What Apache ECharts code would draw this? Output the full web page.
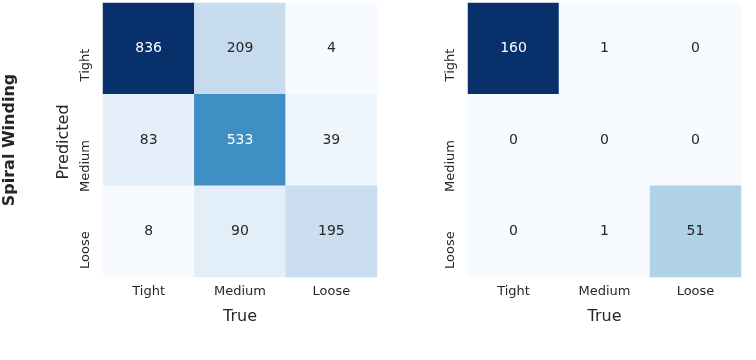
<!DOCTYPE html>
<html>
<head>
<meta charset="utf-8">
<script src="https://cdn.jsdelivr.net/npm/echarts@6/dist/echarts.min.js"></script>
<style>html,body{margin:0;padding:0;background:#fff}#c{width:756px;height:360px}</style>
</head>
<body>
<div id="c"></div>
<script>
const trueLabels = ['Tight', 'Medium', 'Loose'];
const predLabels = ['Tight', 'Medium', 'Loose'];
// rows = predicted, cols = true
const leftMatrix = [
  [836, 209, 4],
  [83, 533, 39],
  [8, 90, 195]
];
const rightMatrix = [
  [160, 1, 0],
  [0, 0, 0],
  [0, 1, 51]
];
const blues = ['#f7fbff','#deebf7','#c6dbef','#9ecae1','#6baed6','#4292c6','#2171b5','#08519c','#08306b'];
const txt = '#262626';
const FONT = 'DejaVu Sans';

function toData(m) {
  const out = [];
  m.forEach((row, r) => row.forEach((v, c) => out.push([c, r, v])));
  return out;
}
function flat(m) { return m.reduce((a, r) => a.concat(r), []); }
function hexToRgb(h){return [parseInt(h.slice(1,3),16),parseInt(h.slice(3,5),16),parseInt(h.slice(5,7),16)];}
function colorAt(t){
  t=Math.max(0,Math.min(1,t));
  const p=t*(blues.length-1), i=Math.min(Math.floor(p),blues.length-2), f=p-i;
  const a=hexToRgb(blues[i]), b=hexToRgb(blues[i+1]);
  return a.map((x,k)=>x+(b[k]-x)*f);
}
function lum(rgb){
  const c=rgb.map(v=>{v/=255;return v<=0.03928?v/12.92:Math.pow((v+0.055)/1.055,2.4);});
  return 0.2126*c[0]+0.7152*c[1]+0.0722*c[2];
}
function makeSeries(m, xi, yi) {
  const vals = flat(m), mn = Math.min(...vals), mx = Math.max(...vals);
  return {
    type: 'heatmap', xAxisIndex: xi, yAxisIndex: yi,
    data: toData(m).map(d => {
      const l = lum(colorAt((d[2]-mn)/(mx-mn)));
      return {value: d, label: {color: l < 0.408 ? '#ffffff' : txt}};
    }),
    label: {show: true, fontFamily: FONT, fontSize: 14},
    itemStyle: {borderWidth: 0},
    emphasis: {disabled: true}
  };
}
function rng(m){const v=flat(m);return [Math.min(...v),Math.max(...v)];}

const chart = echarts.init(document.getElementById('c'), null, {renderer: 'canvas'});
const xAx = (gi) => ({
  type: 'category', gridIndex: gi, data: trueLabels, position: 'bottom',
  axisLine: {show: false}, axisTick: {show: false}, splitLine: {show: false},
  axisLabel: {color: txt, fontFamily: FONT, fontSize: 13, margin: 8},
  name: 'True', nameLocation: 'middle', nameGap: 32,
  nameTextStyle: {color: txt, fontFamily: FONT, fontSize: 16}
});
const yAx = (gi) => ({
  type: 'category', gridIndex: gi, data: predLabels, inverse: true,
  axisLine: {show: false}, axisTick: {show: false}, splitLine: {show: false},
  axisLabel: {color: txt, fontFamily: FONT, fontSize: 13, rotate: 90, margin: 11, align: 'right'}
});
const lr = rng(leftMatrix), rr = rng(rightMatrix);
chart.setOption({
  animation: false,
  grid: [
    {left: 103, top: 3, width: 274, height: 274},
    {left: 468, top: 3, width: 273, height: 274}
  ],
  xAxis: [xAx(0), xAx(1)],
  yAxis: [yAx(0), yAx(1)],
  visualMap: [
    {show: false, seriesIndex: 0, min: lr[0], max: lr[1], inRange: {color: blues}},
    {show: false, seriesIndex: 1, min: rr[0], max: rr[1], inRange: {color: blues}}
  ],
  series: [makeSeries(leftMatrix, 0, 0), makeSeries(rightMatrix, 1, 1)],
  graphic: [
    {type: 'text', x: 64, y: 142, rotation: Math.PI/2,
     style: {text: 'Predicted', fill: txt, font: '16px "DejaVu Sans"', align: 'center', verticalAlign: 'middle'}},
    {type: 'text', x: 10, y: 140, rotation: Math.PI/2,
     style: {text: 'Spiral Winding', fill: txt, font: 'bold 16px "DejaVu Sans"', align: 'center', verticalAlign: 'middle'}}
  ]
});
</script>
</body>
</html>
